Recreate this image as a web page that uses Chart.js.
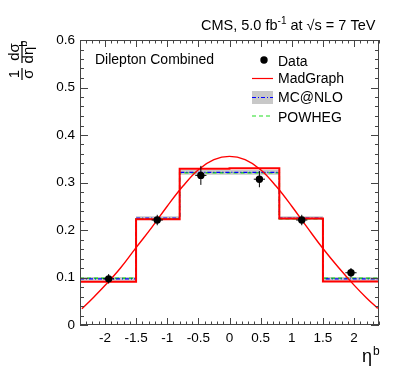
<!DOCTYPE html>
<html>
<head>
<meta charset="utf-8">
<script src="https://cdn.jsdelivr.net/npm/chart.js@4/dist/chart.umd.min.js"></script>
<style>
  html, body { margin: 0; padding: 0; background: #fff; }
</style>
</head>
<body>
<canvas id="plot1" width="399" height="383"></canvas>
<script>
// bins of eta^b
let binEdges = [-2.4, -1.5, -0.8, 0, 0.8, 1.5, 2.4];
let madgraphHist = [0.091, 0.2225, 0.329, 0.330, 0.224, 0.0915];
let mcnloHist = [0.097, 0.225, 0.3215, 0.3215, 0.225, 0.097];
let mcnloErr = [0.004, 0.004, 0.005, 0.005, 0.004, 0.004];
let powhegHist = [0.0985, 0.2235, 0.3205, 0.3205, 0.2235, 0.0985];

// data points
let dataX = [-1.94, -1.16, -0.46, 0.48, 1.16, 1.95];
let dataY = [0.0972, 0.221, 0.315, 0.307, 0.221, 0.110];
let dataErrY = [0.01, 0.011, 0.02, 0.017, 0.011, 0.01];
let dataErrX = [0.09, 0.09, 0.09, 0.09, 0.09, 0.09];

// smooth MadGraph curve
let curveX = [-2.37, -2.2, -2.0, -1.75, -1.5, -1.25, -1.0, -0.75, -0.5, -0.25, 0, 0.25, 0.5, 0.75, 1.0, 1.25, 1.5, 1.75, 2.0, 2.2, 2.38];
let curveY = [0.034, 0.056, 0.083, 0.120, 0.163, 0.205, 0.250, 0.292, 0.327, 0.348, 0.355, 0.348, 0.327, 0.292, 0.250, 0.205, 0.161, 0.121, 0.084, 0.057, 0.035];

// axis ticks
let xTickVals = [-2, -1.5, -1, -0.5, 0, 0.5, 1, 1.5, 2];
let xTickLabels = ["-2", "-1.5", "-1", "-0.5", "0", "0.5", "1", "1.5", "2"];
let yTickVals = [0, 0.1, 0.2, 0.3, 0.4, 0.5, 0.6];
let yTickLabels = ["0", "0.1", "0.2", "0.3", "0.4", "0.5", "0.6"];

let fontFam = '"Liberation Sans", Arial, Helvetica, sans-serif';

let stepPoints = (vals) => {
  let pts = vals.map((v, i) => ({ x: binEdges[i], y: v }));
  pts.push({ x: binEdges[binEdges.length - 1], y: vals[vals.length - 1] });
  return pts;
};

let rootStyle = {
  id: "rootStyle",
  afterDatasetsDraw(chart) {
    let ctx = chart.ctx;
    let xs = chart.scales.x;
    let ys = chart.scales.y;
    // error bars
    ctx.save();
    ctx.strokeStyle = "#000";
    ctx.lineWidth = 1;
    ctx.beginPath();
    for (let i = 0; i < dataX.length; i++) {
      let px = xs.getPixelForValue(dataX[i]);
      let py = ys.getPixelForValue(dataY[i]);
      ctx.moveTo(px, ys.getPixelForValue(dataY[i] - dataErrY[i]));
      ctx.lineTo(px, ys.getPixelForValue(dataY[i] + dataErrY[i]));
      ctx.moveTo(xs.getPixelForValue(dataX[i] - dataErrX[i]), py);
      ctx.lineTo(xs.getPixelForValue(dataX[i] + dataErrX[i]), py);
    }
    ctx.stroke();
    ctx.restore();
  },
  afterDraw(chart) {
    let ctx = chart.ctx;
    let ca = chart.chartArea;
    let xs = chart.scales.x;
    let ys = chart.scales.y;
    ctx.save();

    // frame
    ctx.strokeStyle = "#444";
    ctx.lineWidth = 1;
    ctx.strokeRect(Math.round(ca.left) + 0.5, Math.round(ca.top) + 0.5,
      Math.round(ca.right - ca.left) - 1, Math.round(ca.bottom - ca.top) - 1);

    // inner ticks
    ctx.beginPath();
    for (let i = -24; i <= 24; i++) {
      let px = Math.round(xs.getPixelForValue(i / 10)) + 0.5;
      let len = i % 5 === 0 ? 7 : 3.5;
      ctx.moveTo(px, ca.bottom);
      ctx.lineTo(px, ca.bottom - len);
      ctx.moveTo(px, ca.top);
      ctx.lineTo(px, ca.top + len);
    }
    for (let i = 0; i <= 30; i++) {
      let py = Math.round(ys.getPixelForValue(i / 50)) + 0.5;
      let len = i % 5 === 0 ? 8 : 4;
      ctx.moveTo(ca.left, py);
      ctx.lineTo(ca.left + len, py);
      ctx.moveTo(ca.right, py);
      ctx.lineTo(ca.right - len, py);
    }
    ctx.stroke();

    ctx.fillStyle = "#000";
    ctx.textAlign = "left";
    ctx.textBaseline = "alphabetic";

    // title
    let x = 201;
    let put = (txt, size, dy) => {
      ctx.font = size + "px " + fontFam;
      ctx.fillText(txt, x, 30 + dy);
      x += ctx.measureText(txt).width;
    };
    put("CMS, 5.0 fb", 14.5, 0);
    put("-1", 10, -6);
    put(" at ", 14.5, 0);
    put("\u221As", 14.5, 0);
    put(" = 7 TeV", 14.5, 0);

    // label
    ctx.font = "14px " + fontFam;
    ctx.fillText("Dilepton Combined", 95, 63.5);

    // legend
    ctx.fillText("Data", 278, 65.5);
    ctx.fillText("MadGraph", 278, 82.5);
    ctx.fillText("MC@NLO", 278, 101.7);
    ctx.fillText("POWHEG", 278, 121.5);

    ctx.beginPath();
    ctx.arc(264, 60, 3.7, 0, Math.PI * 2);
    ctx.fill();

    ctx.strokeStyle = "#ff0000";
    ctx.lineWidth = 1.2;
    ctx.beginPath();
    ctx.moveTo(252, 78.5);
    ctx.lineTo(273, 78.5);
    ctx.stroke();

    ctx.fillStyle = "#c8c8c8";
    ctx.fillRect(252, 91, 21, 13);
    ctx.strokeStyle = "#0000ff";
    ctx.setLineDash([4, 2, 1, 2]);
    ctx.beginPath();
    ctx.moveTo(252, 97.5);
    ctx.lineTo(273, 97.5);
    ctx.stroke();

    ctx.strokeStyle = "#22dd22";
    ctx.setLineDash([4, 3]);
    ctx.beginPath();
    ctx.moveTo(252, 116);
    ctx.lineTo(273, 116);
    ctx.stroke();
    ctx.setLineDash([]);

    // x axis title
    ctx.fillStyle = "#000";
    ctx.font = "18px " + fontFam;
    ctx.fillText("\u03B7", 362, 362);
    ctx.font = "12px " + fontFam;
    ctx.fillText("b", 373, 355);

    // y axis title (rotated fraction)
    ctx.translate(22, 61);
    ctx.rotate(-Math.PI / 2);
    ctx.textAlign = "center";
    ctx.font = "15px " + fontFam;
    ctx.fillText("1", -13, -3);
    ctx.fillText("\u03C3", -13, 11);
    ctx.fillRect(-19, -0.6, 12, 1.2);
    ctx.fillText("d\u03C3", 9, -3);
    ctx.fillRect(-2, -0.6, 22, 1.2);
    ctx.textAlign = "left";
    let wd = ctx.measureText("d\u03B7").width;
    ctx.font = "11px " + fontFam;
    let wb = ctx.measureText("b").width;
    let sx = 9 - (wd + wb) / 2;
    ctx.font = "15px " + fontFam;
    ctx.fillText("d\u03B7", sx, 11);
    ctx.font = "11px " + fontFam;
    ctx.fillText("b", sx + wd, 5);

    ctx.restore();
  },
};

let plotRef = document.getElementById("plot1");

let config = {
  type: "line",
  data: {
    datasets: [
      {
        label: "MC@NLO band",
        data: stepPoints(mcnloHist.map((v, i) => v + mcnloErr[i])),
        stepped: "before",
        fill: "+1",
        backgroundColor: "#c8c8c8",
        borderColor: "rgba(0,0,0,0)",
        borderWidth: 0,
        pointRadius: 0,
        order: 10,
      },
      {
        label: "MC@NLO band low",
        data: stepPoints(mcnloHist.map((v, i) => v - mcnloErr[i])),
        stepped: "before",
        fill: false,
        borderColor: "rgba(0,0,0,0)",
        borderWidth: 0,
        pointRadius: 0,
        order: 9,
      },
      {
        label: "POWHEG",
        data: stepPoints(powhegHist),
        stepped: "before",
        fill: false,
        borderColor: "#22dd22",
        borderWidth: 1.5,
        borderDash: [4, 3],
        pointRadius: 0,
        order: 7,
      },
      {
        label: "MC@NLO",
        data: stepPoints(mcnloHist),
        stepped: "before",
        fill: false,
        borderColor: "#0000ff",
        borderWidth: 1.3,
        borderDash: [4, 2, 1, 2],
        pointRadius: 0,
        order: 6,
      },
      {
        label: "MadGraph",
        data: stepPoints(madgraphHist),
        stepped: "before",
        fill: false,
        borderColor: "#ff0000",
        borderWidth: 2,
        pointRadius: 0,
        order: 5,
      },
      {
        label: "MadGraph curve",
        data: curveX.map((x, i) => ({ x: x, y: curveY[i] })),
        fill: false,
        tension: 0.4,
        borderColor: "#ff0000",
        borderWidth: 1.4,
        pointRadius: 0,
        order: 4,
      },
      {
        label: "Data",
        data: dataX.map((x, i) => ({ x: x, y: dataY[i] })),
        showLine: false,
        pointRadius: 3.7,
        pointBackgroundColor: "#000",
        pointBorderColor: "#000",
        pointBorderWidth: 0,
        order: 1,
      },
    ],
  },
  options: {
    responsive: false,
    animation: false,
    devicePixelRatio: 1,
    layout: { padding: { top: 40, right: 20, left: 0, bottom: 0 } },
    plugins: { legend: { display: false }, tooltip: { enabled: false } },
    scales: {
      x: {
        type: "linear",
        min: -2.4,
        max: 2.4,
        grid: { display: false, drawTicks: false },
        border: { display: false },
        afterBuildTicks: (s) => { s.ticks = xTickVals.map((v) => ({ value: v })); },
        afterFit: (s) => { s.height = 58; },
        ticks: {
          padding: 5,
          maxRotation: 0,
          autoSkip: false,
          color: "#000",
          font: { family: fontFam, size: 13.5 },
          callback: (v) => xTickLabels[xTickVals.indexOf(v)],
        },
      },
      y: {
        min: 0,
        max: 0.6,
        grid: { display: false, drawTicks: false },
        border: { display: false },
        afterBuildTicks: (s) => { s.ticks = yTickVals.map((v) => ({ value: v })); },
        afterFit: (s) => { s.width = 80; },
        ticks: {
          padding: 5,
          autoSkip: false,
          color: "#000",
          font: { family: fontFam, size: 13.5 },
          callback: (v) => yTickLabels[yTickVals.indexOf(v)],
        },
      },
    },
  },
  plugins: [rootStyle],
};

let chart1 = new Chart(plotRef, config);
</script>
</body>
</html>
